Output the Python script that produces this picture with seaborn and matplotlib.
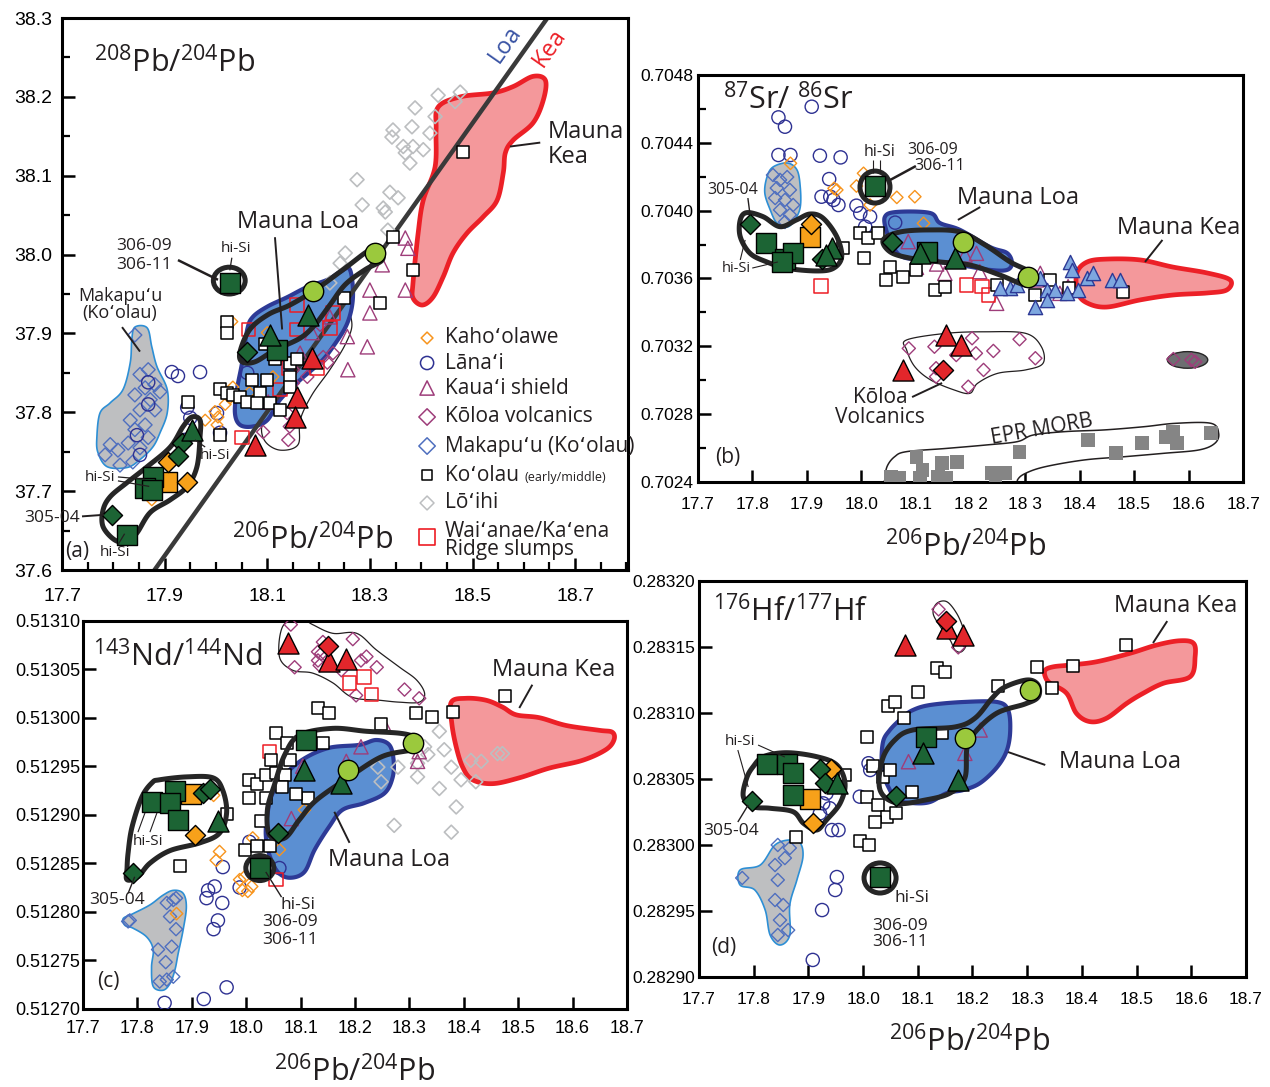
import numpy as np
import matplotlib
matplotlib.use("Agg")
import matplotlib.pyplot as plt
from matplotlib.patches import Ellipse
from matplotlib.ticker import FixedLocator, FixedFormatter, MultipleLocator
import seaborn as sns

sns.set_theme(style="white")
plt.rcParams["font.family"] = ["Liberation Sans", "DejaVu Sans"]
plt.rcParams["mathtext.default"] = "regular"
ANNOT = ["Open Sans", "DejaVu Sans"]
TITLE_SIZE = 22

INK = "#231F20"
ORANGE = "#F7941D"
NAVY = "#2E3192"
PLUM = "#9E3D7A"
MAK_BLUE = "#4F6FBF"
LOIHI_GRAY = "#BCBEC0"
WAI_RED = "#ED1C24"
GREEN = "#1C6434"
ORANGE_FILL = "#F7A11A"
RED_FILL = "#E2262B"
LIME = "#9BC93D"
ML_FILL, ML_EDGE = "#5B8FD2", "#2D3A96"
MK_FILL, MK_EDGE = "#F4989B", "#EC2027"
MAK_FILL, MAK_EDGE = "#BEBFC1", "#2D8FD5"
TUBE = "#262626"
EPR_GRAY = "#858585"
LB_TRI = "#7DA7DF"

# ---------------------------------------------------------------- (a) 208Pb/204Pb
A_KAHO_X = [18.031, 18.033, 18.027, 17.998, 18.004, 18.002, 18.065, 18.111, 17.875, 18.100, 18.018, 17.979]
A_KAHO_Y = [37.915, 37.832, 37.818, 37.801, 37.794, 37.784, 37.825, 37.845, 37.689, 37.901, 37.810, 37.790]
A_LANAI_X = [17.914, 17.926, 17.969, 17.868, 17.846, 17.852, 17.944, 17.950, 18.002, 18.008, 18.061, 17.940, 17.868]
A_LANAI_Y = [37.851, 37.846, 37.851, 37.810, 37.771, 37.746, 37.806, 37.793, 37.799, 37.774, 37.850, 37.765, 37.838]
A_KAUAI_X = [18.369, 18.374, 18.324, 18.300, 18.369, 18.300, 18.256, 18.295, 18.257, 18.187, 18.222, 18.164, 18.102]
A_KAUAI_Y = [38.021, 38.008, 37.987, 37.955, 37.955, 37.926, 37.896, 37.883, 37.854, 37.901, 37.921, 37.875, 37.813]
A_KOLOA_X = [18.150, 18.178, 18.209, 18.228, 18.217, 18.139, 18.144, 18.141, 18.092, 18.150, 18.203]
A_KOLOA_Y = [37.854, 37.845, 37.870, 37.875, 37.863, 37.799, 37.782, 37.765, 37.775, 37.837, 37.911]
A_MAKAPUU_X = [17.842, 17.868, 17.852, 17.881, 17.862, 17.891, 17.842, 17.872, 17.852, 17.881, 17.833,
               17.862, 17.842, 17.868, 17.829, 17.852, 17.794, 17.809, 17.784, 17.838, 17.813]
A_MAKAPUU_Y = [37.898, 37.854, 37.848, 37.835, 37.831, 37.826, 37.822, 37.816, 37.803, 37.803, 37.790,
               37.784, 37.778, 37.768, 37.761, 37.755, 37.759, 37.752, 37.746, 37.737, 37.733]
A_KOOLAU_X = [18.022, 18.022, 17.946, 18.008, 18.022, 18.033, 18.047, 18.061, 18.070, 18.086, 18.080, 18.100, 18.105,
              18.115, 18.144, 18.158, 18.144, 18.125, 18.144, 18.008, 18.250, 18.345, 18.384, 18.482, 18.320, 18.096]
A_KOOLAU_Y = [37.915, 37.901, 37.813, 37.829, 37.825, 37.822, 37.820, 37.813, 37.841, 37.825, 37.812, 37.841, 37.812,
              37.867, 37.863, 37.867, 37.845, 37.803, 37.832, 37.771, 37.945, 38.022, 37.981, 38.130, 37.939, 37.886]
A_LOIHI_X = [18.433, 18.476, 18.466, 18.388, 18.427, 18.382, 18.345, 18.343, 18.417, 18.365, 18.384, 18.404,
             18.369, 18.378, 18.275, 18.339, 18.355, 18.285, 18.326, 18.330, 18.335, 18.252, 18.242, 18.222]
A_LOIHI_Y = [38.202, 38.206, 38.194, 38.186, 38.175, 38.162, 38.158, 38.149, 38.154, 38.137, 38.137, 38.133,
             38.129, 38.116, 38.095, 38.079, 38.072, 38.063, 38.059, 38.054, 38.031, 38.002, 37.989, 37.964]
A_WAIANAE_X = [18.158, 18.063, 18.158, 18.228, 18.222, 18.141, 18.197, 18.125, 18.051]
A_WAIANAE_Y = [37.936, 37.905, 37.905, 37.926, 37.907, 37.856, 37.856, 37.829, 37.768]
A_GSQ_X = [18.027, 17.877, 17.862, 17.875, 17.827, 18.119]
A_GSQ_Y = [37.964, 37.718, 37.704, 37.702, 37.645, 37.879]
A_OSQ_X, A_OSQ_Y = [17.905], [37.712]
A_GDIA_X = [17.797, 17.934, 17.926, 18.061]
A_GDIA_Y = [37.670, 37.761, 37.744, 37.877]
A_ODIA_X, A_ODIA_Y = [17.907, 17.944], [37.737, 37.712]
A_GTRI_X, A_GTRI_Y = [17.953, 18.105, 18.180], [37.778, 37.898, 37.924]
A_RTRI_X, A_RTRI_Y = [18.187, 18.158, 18.154, 18.076], [37.869, 37.820, 37.794, 37.759]
A_LIME_X, A_LIME_Y = [18.189, 18.310], [37.954, 38.002]
A_LOAKEA_X, A_LOAKEA_Y = [17.877, 18.647], [37.597, 38.301]

A_MK_X = [18.433, 18.476, 18.540, 18.579, 18.618, 18.642, 18.638, 18.618, 18.579, 18.564, 18.560, 18.548,
          18.521, 18.489, 18.462, 18.443, 18.423, 18.402, 18.384, 18.384, 18.394, 18.404, 18.427, 18.429]
A_MK_Y = [38.187, 38.200, 38.205, 38.213, 38.226, 38.221, 38.196, 38.167, 38.145, 38.129, 38.104, 38.069,
          38.048, 38.027, 38.002, 37.972, 37.946, 37.936, 37.945, 37.964, 38.027, 38.069, 38.111, 38.158]
A_ML_X = [18.261, 18.267, 18.256, 18.228, 18.203, 18.164, 18.125, 18.100, 18.072, 18.047, 18.037, 18.041,
          18.051, 18.061, 18.072, 18.100, 18.139, 18.178, 18.217, 18.242]
A_ML_Y = [37.981, 37.946, 37.913, 37.883, 37.863, 37.841, 37.816, 37.790, 37.782, 37.784, 37.799, 37.829,
          37.863, 37.905, 37.921, 37.934, 37.946, 37.959, 37.968, 37.978]
A_KF_X = [18.252, 18.265, 18.252, 18.222, 18.187, 18.164, 18.160, 18.125, 18.096, 18.090, 18.115, 18.154, 18.193, 18.222]
A_KF_Y = [37.930, 37.911, 37.886, 37.854, 37.822, 37.790, 37.759, 37.752, 37.763, 37.784, 37.810, 37.835, 37.867, 37.898]
A_MF_X = [17.842, 17.866, 17.875, 17.885, 17.905, 17.905, 17.891, 17.877, 17.852, 17.827, 17.788, 17.770,
          17.768, 17.774, 17.794, 17.819, 17.833, 17.836]
A_MF_Y = [37.908, 37.907, 37.883, 37.858, 37.829, 37.799, 37.774, 37.756, 37.740, 37.730, 37.731, 37.749,
          37.769, 37.799, 37.812, 37.829, 37.863, 37.892]
A_ENV_X = [17.780, 17.794, 17.827, 17.866, 17.911, 17.936, 17.953, 17.969, 17.969, 17.963, 17.944, 17.911,
           17.872, 17.846, 17.827, 17.803, 17.780]
A_ENV_Y = [37.676, 37.693, 37.711, 37.731, 37.756, 37.782, 37.794, 37.790, 37.769, 37.731, 37.706, 37.689,
           37.673, 37.647, 37.636, 37.638, 37.655]
A_TUBE_X = [18.047, 18.066, 18.102, 18.144, 18.193, 18.252, 18.300, 18.320, 18.324, 18.291, 18.252, 18.222,
            18.193, 18.164, 18.115, 18.076, 18.051]
A_TUBE_Y = [37.877, 37.905, 37.924, 37.936, 37.955, 37.983, 38.006, 38.006, 37.993, 37.981, 37.962, 37.936,
            37.911, 37.894, 37.879, 37.864, 37.864]
A_306 = (18.026, 37.967, 0.031, 0.017)

# ---------------------------------------------------------------- (b) 87Sr/86Sr
B_LANAI_X = [17.848, 17.860, 17.909, 17.848, 17.870, 17.924, 17.962, 17.941, 17.927, 17.943, 17.958,
             17.991, 17.998, 18.016, 18.007, 18.062, 17.949]
B_LANAI_Y = [0.704550, 0.704495, 0.704613, 0.704328, 0.704328, 0.704324, 0.704314, 0.704186, 0.704082,
             0.704082, 0.704033, 0.704029, 0.703984, 0.703964, 0.703905, 0.703929, 0.704063]
B_KAHO_X = [17.870, 17.950, 17.955, 18.004, 17.991, 18.016, 18.065, 18.098, 18.114]
B_KAHO_Y = [0.704279, 0.704131, 0.704122, 0.704220, 0.704145, 0.704033, 0.704078, 0.704082, 0.703925]
B_MAKAPUU_X = [17.838, 17.851, 17.864, 17.845, 17.869, 17.842, 17.860, 17.875, 17.851, 17.869, 17.860]
B_MAKAPUU_Y = [0.704210, 0.704181, 0.704198, 0.704133, 0.704122, 0.704074, 0.704063, 0.704033, 0.704004,
               0.703975, 0.703933]
B_KOOLAU_X = [17.998, 18.013, 18.031, 18.004, 18.053, 18.046, 18.077, 18.101, 18.135, 18.153, 17.967,
              18.248, 18.318, 18.346, 18.380, 18.479]
B_KOOLAU_Y = [0.703866, 0.703837, 0.703866, 0.703719, 0.703669, 0.703591, 0.703610, 0.703650, 0.703532,
              0.703549, 0.703778, 0.703561, 0.703502, 0.703591, 0.703542, 0.703522]
B_WAIANAE_X = [17.926, 18.193, 18.221, 18.233]
B_WAIANAE_Y = [0.703555, 0.703561, 0.703551, 0.703502]
B_KAUAI_X = [18.086, 18.101, 18.138, 18.153, 18.190, 18.211, 18.217, 18.248, 18.321, 18.328, 18.364, 18.379]
B_KAUAI_Y = [0.703817, 0.703665, 0.703685, 0.703630, 0.703738, 0.703748, 0.703640, 0.703453, 0.703591,
             0.703630, 0.703512, 0.703551]
B_KOLOA_X = [18.087, 18.134, 18.137, 18.137, 18.174, 18.203, 18.210, 18.224, 18.242, 18.290, 18.319,
             18.196, 18.572, 18.605, 18.612]
B_KOLOA_Y = [0.703187, 0.703197, 0.703070, 0.703020, 0.703148, 0.703247, 0.703158, 0.703060, 0.703172,
             0.703241, 0.703129, 0.702961, 0.703124, 0.703119, 0.703108]
B_MLOA_X = [18.273, 18.327, 18.340, 18.355, 18.382, 18.386, 18.398, 18.413, 18.425, 18.459, 18.474,
            18.318, 18.340, 18.377, 18.254, 18.285]
B_MLOA_Y = [0.703542, 0.703601, 0.703532, 0.703532, 0.703698, 0.703650, 0.703532, 0.703601, 0.703630,
            0.703591, 0.703591, 0.703433, 0.703473, 0.703512, 0.703543, 0.703561]
B_EPR_X = [18.101, 18.112, 18.108, 18.069, 18.148, 18.176, 18.141, 18.156, 18.239, 18.246, 18.264, 18.290,
           18.416, 18.467, 18.514, 18.558, 18.572, 18.579, 18.641, 18.054]
B_EPR_Y = [0.702548, 0.702470, 0.702420, 0.702420, 0.702513, 0.702519, 0.702430, 0.702420, 0.702450,
           0.702410, 0.702450, 0.702574, 0.702647, 0.702568, 0.702631, 0.702666, 0.702696, 0.702627,
           0.702686, 0.702430]
B_GSQ_X = [18.025, 17.825, 17.860, 17.875, 17.854, 18.120]
B_GSQ_Y = [0.704145, 0.703807, 0.703713, 0.703752, 0.703698, 0.703757]
B_OSQ_X, B_OSQ_Y = [17.906], [0.703846]
B_GDIA_X, B_GDIA_Y = [17.796, 17.927, 18.056], [0.703919, 0.703713, 0.703816]
B_ODIA_X, B_ODIA_Y = [17.908], [0.703921]
B_GTRI_X, B_GTRI_Y = [17.947, 17.936, 18.108, 18.172], [0.703778, 0.703738, 0.703752, 0.703719]
B_RTRI_X, B_RTRI_Y = [18.076, 18.156, 18.183], [0.703060, 0.703266, 0.703207]
B_RDIA_X, B_RDIA_Y = [18.150], [0.703060]
B_LIME_X, B_LIME_Y = [18.187, 18.306], [0.703816, 0.703610]

B_MF_X = [17.827, 17.838, 17.864, 17.882, 17.888, 17.888, 17.878, 17.864, 17.845, 17.833, 17.823]
B_MF_Y = [0.704198, 0.704257, 0.704281, 0.704240, 0.704139, 0.704021, 0.703945, 0.703903, 0.703927,
          0.704004, 0.704104]
B_ML_X = [18.043, 18.065, 18.126, 18.144, 18.181, 18.236, 18.267, 18.276, 18.267, 18.236, 18.181, 18.157,
          18.113, 18.076, 18.058, 18.047]
B_ML_Y = [0.703962, 0.703992, 0.703986, 0.703927, 0.703886, 0.703785, 0.703750, 0.703691, 0.703650,
          0.703650, 0.703679, 0.703691, 0.703709, 0.703726, 0.703785, 0.703868]
B_MK_X = [18.395, 18.414, 18.450, 18.511, 18.571, 18.634, 18.676, 18.670, 18.634, 18.571, 18.511, 18.450,
          18.414, 18.397]
B_MK_Y = [0.703632, 0.703697, 0.703714, 0.703709, 0.703667, 0.703632, 0.703591, 0.703532, 0.703514,
          0.703502, 0.703473, 0.703431, 0.703455, 0.703514]
B_KF_X = [18.083, 18.156, 18.228, 18.301, 18.330, 18.333, 18.301, 18.250, 18.213, 18.199, 18.170, 18.127,
          18.098, 18.083]
B_KF_Y = [0.703237, 0.703276, 0.703285, 0.703276, 0.703197, 0.703099, 0.703060, 0.703040, 0.702981,
          0.702922, 0.702942, 0.703001, 0.703079, 0.703178]
B_EPRF_X = [18.043, 18.047, 18.061, 18.083, 18.156, 18.228, 18.286, 18.315, 18.373, 18.445, 18.518, 18.576,
            18.641, 18.655, 18.648, 18.619, 18.554, 18.482, 18.409, 18.337, 18.301, 18.286, 18.280, 18.040]
B_EPRF_Y = [0.702410, 0.702489, 0.702548, 0.702578, 0.702597, 0.702617, 0.702637, 0.702676, 0.702696,
            0.702706, 0.702725, 0.702745, 0.702745, 0.702686, 0.702627, 0.702588, 0.702568, 0.702548,
            0.702529, 0.702489, 0.702450, 0.702410, 0.702340, 0.702340]
B_ENV_X = [17.778, 17.790, 17.820, 17.851, 17.881, 17.906, 17.930, 17.955, 17.964, 17.949, 17.918, 17.863,
           17.826, 17.796, 17.778]
B_ENV_Y = [0.703945, 0.703988, 0.703964, 0.703905, 0.703945, 0.703980, 0.703955, 0.703846, 0.703728,
           0.703660, 0.703644, 0.703660, 0.703698, 0.703748, 0.703846]
B_TUBE_X = [18.040, 18.071, 18.126, 18.181, 18.227, 18.273, 18.309, 18.318, 18.300, 18.254, 18.199, 18.144,
            18.089, 18.053]
B_TUBE_Y = [0.703827, 0.703874, 0.703886, 0.703874, 0.703797, 0.703697, 0.703638, 0.703579, 0.703561,
            0.703620, 0.703679, 0.703697, 0.703720, 0.703756]
B_306 = (18.025, 0.704139, 0.0275, 0.0000944)
B_ODD = (18.598, 0.703119, 0.037, 0.000049)

# ---------------------------------------------------------------- (c) 143Nd/144Nd
C_KAHO_X = [17.951, 17.945, 17.988, 17.997, 17.993, 18.003, 18.010, 18.012, 18.061, 18.107, 17.940, 17.872]
C_KAHO_Y = [0.512862, 0.512853, 0.512833, 0.512836, 0.512822, 0.512821, 0.512826, 0.512876, 0.512864,
            0.512905, 0.512920, 0.512798]
C_LANAI_X = [17.927, 17.930, 17.942, 17.957, 17.956, 17.948, 17.940, 17.850, 17.922, 17.964, 17.988, 18.006, 18.061]
C_LANAI_Y = [0.512814, 0.512822, 0.512826, 0.512846, 0.512809, 0.512791, 0.512782, 0.512706, 0.512710,
             0.512722, 0.512825, 0.512872, 0.512845]
C_MAKAPUU_X = [17.783, 17.786, 17.854, 17.866, 17.871, 17.860, 17.871, 17.863, 17.838, 17.852, 17.841, 17.854, 17.866]
C_MAKAPUU_Y = [0.512790, 0.512791, 0.512809, 0.512812, 0.512814, 0.512795, 0.512782, 0.512764, 0.512761,
               0.512748, 0.512728, 0.512730, 0.512733]
C_KOOLAU_X = [18.055, 18.075, 18.046, 18.006, 18.019, 18.037, 18.055, 18.071, 18.065, 18.006, 18.037, 18.113,
              18.132, 18.028, 18.080, 17.964, 17.997, 18.019, 18.043, 17.878, 18.152, 18.248, 18.313, 18.342,
              18.380, 18.476, 18.142, 18.092]
C_KOOLAU_Y = [0.512984, 0.512974, 0.512956, 0.512936, 0.512932, 0.512941, 0.512943, 0.512941, 0.512929,
              0.512917, 0.512917, 0.512917, 0.513010, 0.512893, 0.512956, 0.512901, 0.512864, 0.512868,
              0.512868, 0.512847, 0.513005, 0.512994, 0.513005, 0.513001, 0.513006, 0.513022, 0.512974,
              0.512921]
C_WAIANAE_X = [18.043, 18.190, 18.217, 18.230, 18.055]
C_WAIANAE_Y = [0.512965, 0.513036, 0.513042, 0.513024, 0.512833]
C_KOLOA_X = [18.082, 18.089, 18.132, 18.132, 18.141, 18.138, 18.135, 18.196, 18.211, 18.221, 18.240, 18.175,
             18.202, 18.291, 18.318]
C_KOLOA_Y = [0.513096, 0.513052, 0.513068, 0.513059, 0.513078, 0.513066, 0.513054, 0.513081, 0.513059,
             0.513063, 0.513052, 0.513049, 0.513023, 0.513029, 0.513020]
C_KAUAI_X = [18.254, 18.211, 18.318, 18.315, 18.184, 18.083, 18.104]
C_KAUAI_Y = [0.512992, 0.512970, 0.512965, 0.512955, 0.512955, 0.512896, 0.512950]
C_LOIHI_X = [18.355, 18.328, 18.364, 18.334, 18.315, 18.279, 18.242, 18.248, 18.315, 18.377, 18.395, 18.422,
             18.413, 18.432, 18.462, 18.471, 18.355, 18.386, 18.272, 18.377]
C_LOIHI_Y = [0.512986, 0.512970, 0.512967, 0.512962, 0.512953, 0.512949, 0.512949, 0.512934, 0.512939,
             0.512949, 0.512936, 0.512934, 0.512956, 0.512955, 0.512963, 0.512963, 0.512927, 0.512908,
             0.512889, 0.512882]
C_GSQ_X = [17.826, 17.869, 17.860, 17.875, 18.025, 18.110]
C_GSQ_Y = [0.512913, 0.512924, 0.512912, 0.512895, 0.512845, 0.512977]
C_OSQ_X, C_OSQ_Y = [17.899], [0.512921]
C_ODIA_X, C_ODIA_Y = [17.906], [0.512879]
C_GDIA_X, C_GDIA_Y = [17.792, 17.921, 17.933, 18.058], [0.512840, 0.512922, 0.512927, 0.512881]
C_GTRI_X, C_GTRI_Y = [17.948, 18.107, 18.175], [0.512893, 0.512946, 0.512933]
C_RTRI_X, C_RTRI_Y = [18.077, 18.153, 18.183], [0.513077, 0.513058, 0.513060]
C_RDIA_X, C_RDIA_Y = [18.150], [0.513074]
C_LIME_X, C_LIME_Y = [18.306, 18.187], [0.512974, 0.512946]

C_MF_X = [17.774, 17.792, 17.823, 17.847, 17.866, 17.884, 17.890, 17.884, 17.875, 17.869, 17.860, 17.847,
          17.829, 17.826, 17.829, 17.817, 17.792, 17.777]
C_MF_Y = [0.512793, 0.512798, 0.512807, 0.512817, 0.512822, 0.512819, 0.512805, 0.512781, 0.512757,
          0.512740, 0.512726, 0.512719, 0.512723, 0.512743, 0.512761, 0.512774, 0.512783, 0.512786]
C_ML_X = [18.039, 18.047, 18.071, 18.107, 18.153, 18.208, 18.239, 18.263, 18.271, 18.269, 18.254, 18.217,
          18.177, 18.153, 18.126, 18.107, 18.080, 18.058, 18.043, 18.036]
C_ML_Y = [0.512900, 0.512920, 0.512941, 0.512958, 0.512969, 0.512972, 0.512977, 0.512972, 0.512956,
          0.512938, 0.512922, 0.512912, 0.512905, 0.512888, 0.512864, 0.512841, 0.512835, 0.512841,
          0.512858, 0.512879]
C_MK_X = [18.377, 18.404, 18.441, 18.471, 18.496, 18.539, 18.588, 18.649, 18.673, 18.676, 18.661, 18.618,
          18.557, 18.502, 18.453, 18.416, 18.398, 18.386, 18.378]
C_MK_Y = [0.513016, 0.513020, 0.513018, 0.513011, 0.513003, 0.513000, 0.512992, 0.512987, 0.512985,
          0.512977, 0.512967, 0.512956, 0.512948, 0.512938, 0.512932, 0.512936, 0.512949, 0.512970,
          0.512994]
C_KF_X = [18.067, 18.098, 18.122, 18.159, 18.203, 18.239, 18.282, 18.313, 18.328, 18.318, 18.282, 18.245,
          18.195, 18.159, 18.122, 18.085, 18.061]
C_KF_Y = [0.513094, 0.513103, 0.513096, 0.513087, 0.513087, 0.513070, 0.513052, 0.513039, 0.513025,
          0.513016, 0.513016, 0.513018, 0.513021, 0.513036, 0.513046, 0.513049, 0.513063]
C_ENV_X = [17.781, 17.783, 17.790, 17.808, 17.827, 17.841, 17.891, 17.939, 17.957, 17.964, 17.951, 17.915,
           17.860, 17.823, 17.801, 17.781]
C_ENV_Y = [0.512845, 0.512861, 0.512887, 0.512918, 0.512933, 0.512936, 0.512939, 0.512938, 0.512925,
           0.512902, 0.512881, 0.512871, 0.512863, 0.512850, 0.512836, 0.512833]
C_TUBE_X = [18.043, 18.039, 18.052, 18.071, 18.098, 18.159, 18.221, 18.282, 18.309, 18.318, 18.306, 18.250,
            18.190, 18.129, 18.098, 18.071]
C_TUBE_Y = [0.512879, 0.512905, 0.512931, 0.512962, 0.512982, 0.512989, 0.512986, 0.512984, 0.512980,
            0.512972, 0.512967, 0.512960, 0.512939, 0.512915, 0.512895, 0.512876]
C_306 = (18.025, 0.512845, 0.0257, 0.0000129)

# ---------------------------------------------------------------- (d) 176Hf/177Hf
D_LANAI_X = [18.010, 18.013, 17.994, 17.933, 17.927, 17.939, 17.921, 17.943, 17.955, 17.952, 17.949, 17.925, 17.908]
D_LANAI_Y = [0.2830617, 0.2830566, 0.2830364, 0.2830389, 0.2830313, 0.2830276, 0.2830238, 0.2830111,
             0.2830111, 0.2829755, 0.2829657, 0.2829505, 0.2829127]
D_MAKAPUU_X = [17.779, 17.844, 17.866, 17.857, 17.839, 17.844, 17.839, 17.854, 17.848, 17.844, 17.863]
D_MAKAPUU_Y = [0.2829748, 0.2829998, 0.2829975, 0.2829899, 0.2829846, 0.2829733, 0.2829581, 0.2829543,
               0.2829429, 0.2829316, 0.2829353]
D_KOOLAU_X = [18.135, 18.150, 18.101, 18.046, 18.058, 18.075, 18.007, 18.019, 18.007, 18.028, 18.043, 18.022,
              18.061, 17.994, 18.010, 18.036, 18.049, 18.089, 18.144, 17.967, 17.877, 18.247, 18.318, 18.345,
              18.383, 18.481]
D_KOOLAU_Y = [0.2831336, 0.2831311, 0.2831159, 0.2831051, 0.2831083, 0.2830958, 0.2830818, 0.2830596,
              0.2830364, 0.2830301, 0.2830212, 0.2830170, 0.2830242, 0.2830030, 0.2829998, 0.2830515,
              0.2830566, 0.2830401, 0.2830844, 0.2830528, 0.2830061, 0.2831202, 0.2831348, 0.2831185,
              0.2831354, 0.2831513]
D_KOLOA_X, D_KOLOA_Y = [18.138, 18.174], [0.2831783, 0.2831495]
D_KAUAI_X, D_KAUAI_Y = [18.083, 18.214, 18.186], [0.2830629, 0.2830869, 0.2830692]
D_GSQ_X = [17.825, 17.860, 17.872, 17.871, 18.115, 18.031]
D_GSQ_Y = [0.2830609, 0.2830609, 0.2830541, 0.2830376, 0.2830818, 0.2829755]
D_OSQ_X, D_OSQ_Y = [17.903], [0.2830344]
D_ODIA_X, D_ODIA_Y = [17.941, 17.908], [0.2830571, 0.2830162]
D_GDIA_X, D_GDIA_Y = [17.796, 17.921, 17.930, 18.060], [0.2830333, 0.2830571, 0.2830465, 0.2830369]
D_GTRI_X, D_GTRI_Y = [17.952, 18.110, 18.174], [0.2830470, 0.2830692, 0.2830490]
D_RTRI_X, D_RTRI_Y = [18.077, 18.153, 18.183], [0.2831513, 0.2831639, 0.2831589]
D_RDIA_X, D_RDIA_Y = [18.152], [0.2831697]
D_LIME_X, D_LIME_Y = [18.186, 18.305], [0.2830806, 0.2831172]

D_MF_X = [17.775, 17.812, 17.839, 17.866, 17.885, 17.890, 17.879, 17.866, 17.866, 17.848, 17.830, 17.821,
          17.802, 17.775]
D_MF_Y = [0.2829808, 0.2829846, 0.2829998, 0.2830036, 0.2830013, 0.2829907, 0.2829733, 0.2829543,
          0.2829316, 0.2829240, 0.2829316, 0.2829505, 0.2829657, 0.2829695]
D_ML_X = [18.036, 18.049, 18.073, 18.091, 18.122, 18.183, 18.245, 18.265, 18.269, 18.263, 18.245, 18.214,
          18.183, 18.153, 18.122, 18.091, 18.062, 18.049, 18.035]
D_ML_Y = [0.2830770, 0.2830869, 0.2830967, 0.2831020, 0.2831058, 0.2831081, 0.2831081, 0.2831020,
          0.2830869, 0.2830717, 0.2830588, 0.2830467, 0.2830414, 0.2830391, 0.2830323, 0.2830315,
          0.2830338, 0.2830414, 0.2830566]
D_MK_X = [18.333, 18.348, 18.378, 18.427, 18.488, 18.537, 18.579, 18.604, 18.607, 18.598, 18.549, 18.512,
          18.482, 18.445, 18.415, 18.390, 18.372, 18.342, 18.333]
D_MK_Y = [0.2831323, 0.2831348, 0.2831361, 0.2831386, 0.2831450, 0.2831513, 0.2831545, 0.2831526,
          0.2831424, 0.2831273, 0.2831223, 0.2831147, 0.2831071, 0.2830958, 0.2830932, 0.2830995,
          0.2831147, 0.2831223, 0.2831273]
D_KF_X = [18.135, 18.153, 18.171, 18.183, 18.189, 18.180, 18.168, 18.159, 18.141, 18.128]
D_KF_Y = [0.2831829, 0.2831841, 0.2831753, 0.2831639, 0.2831526, 0.2831462, 0.2831475, 0.2831551,
          0.2831652, 0.2831753]
D_ENV_X = [17.787, 17.799, 17.818, 17.860, 17.915, 17.952, 17.967, 17.958, 17.933, 17.915, 17.891, 17.872,
           17.830, 17.799, 17.781]
D_ENV_Y = [0.2830503, 0.2830591, 0.2830667, 0.2830697, 0.2830667, 0.2830604, 0.2830465, 0.2830314,
           0.2830187, 0.2830111, 0.2830162, 0.2830250, 0.2830276, 0.2830288, 0.2830364]
D_TUBE_X = [18.031, 18.035, 18.058, 18.091, 18.168, 18.205, 18.236, 18.259, 18.300, 18.320, 18.320, 18.296,
            18.245, 18.205, 18.190, 18.186, 18.159, 18.113, 18.062]
D_TUBE_Y = [0.2830414, 0.2830642, 0.2830793, 0.2830869, 0.2830892, 0.2830960, 0.2831111, 0.2831194,
            0.2831248, 0.2831210, 0.2831119, 0.2831066, 0.2830998, 0.2830854, 0.2830733, 0.2830505,
            0.2830391, 0.2830338, 0.2830315]
D_306 = (18.031, 0.2829748, 0.0293, 0.0000114)

X_TICKS = [17.7, 17.8, 17.9, 18.0, 18.1, 18.2, 18.3, 18.4, 18.5, 18.6, 18.7]
X_LABELS = ["17.7", "17.8", "17.9", "18.0", "18.1", "18.2", "18.3", "18.4", "18.5", "18.6", "18.7"]
B_X_LABELS = ["17.7", "17.8", "17.9", "18.0", "18.1", "18 2", "18 3", "18.4", "18.5", "18.6", "18.7"]
A_X_TICKS = [17.7, 17.9, 18.1, 18.3, 18.5, 18.7]
A_Y_TICKS = [37.6, 37.7, 37.8, 37.9, 38.0, 38.1, 38.2, 38.3]
B_Y_TICKS = [0.7024, 0.7028, 0.7032, 0.7036, 0.7040, 0.7044, 0.7048]
C_Y_TICKS = [0.51270, 0.51275, 0.51280, 0.51285, 0.51290, 0.51295, 0.51300, 0.51305, 0.51310]
D_Y_TICKS = [0.28290, 0.28295, 0.28300, 0.28305, 0.28310, 0.28315, 0.28320]


def smooth_closed(xs, ys, n=12):
    """Closed Catmull-Rom curve through the outline vertices."""
    p = np.column_stack([xs, ys]).astype(float)
    k = len(p)
    t = np.linspace(0.0, 1.0, n, endpoint=False)[:, None]
    out = []
    for i in range(k):
        p0, p1, p2, p3 = p[i - 1], p[i], p[(i + 1) % k], p[(i + 2) % k]
        out.append(0.5 * (2 * p1 + (p2 - p0) * t + (2 * p0 - 5 * p1 + 4 * p2 - p3) * t ** 2
                          + (3 * p1 - p0 - 3 * p2 + p3) * t ** 3))
    out = np.vstack(out)
    return out[:, 0], out[:, 1]


def field(ax, xs, ys, fc, ec, lw, z=1):
    sx, sy = smooth_closed(xs, ys)
    ax.fill(sx, sy, facecolor=fc, edgecolor=ec, linewidth=lw, zorder=z, joinstyle="round")


def envelope(ax, xs, ys, z=4):
    sx, sy = smooth_closed(xs, ys)
    ax.fill(sx, sy, facecolor="none", edgecolor=TUBE, linewidth=3.6, zorder=z, joinstyle="round")


def ring(ax, spec, fc="none", lw=3.6, z=4):
    cx, cy, hw, hh = spec
    ax.add_patch(Ellipse((cx, cy), 2 * hw, 2 * hh, facecolor=fc, edgecolor=TUBE, linewidth=lw, zorder=z))


def pts(ax, xs, ys, marker, s, fc, ec, lw=1.0, z=3):
    sns.scatterplot(x=np.asarray(xs, float), y=np.asarray(ys, float), marker=marker, s=s,
                    facecolor=fc, edgecolor=ec, linewidth=lw, zorder=z, legend=False, ax=ax)


def note(ax, x, y, s, size, ha="center", va="center", color=INK, **kw):
    return ax.text(x, y, s, fontsize=size, family=ANNOT, ha=ha, va=va, color=color, zorder=8, **kw)


def lead(ax, x0, y0, x1, y1, lw=1.4):
    ax.plot([x0, x1], [y0, y1], color=INK, linewidth=lw, zorder=7, solid_capstyle="butt")


def study(ax, d):
    """Filled symbols for the new samples (green/orange/red/lime)."""
    if "osq" in d:
        pts(ax, *d["osq"], "s", 220, ORANGE_FILL, "black", 1.0, 5)
    pts(ax, *d["gsq"], "s", 220, GREEN, "black", 1.0, 5)
    if "odia" in d:
        pts(ax, *d["odia"], "D", 105, ORANGE_FILL, "black", 1.0, 5)
    pts(ax, *d["gdia"], "D", 105, GREEN, "black", 1.0, 5)
    pts(ax, *d["gtri"], "^", 230, GREEN, "black", 1.0, 5)
    pts(ax, *d["rtri"], "^", 230, RED_FILL, "black", 1.0, 5)
    if "rdia" in d:
        pts(ax, *d["rdia"], "D", 105, RED_FILL, "black", 1.0, 5)
    pts(ax, *d["lime"], "o", 215, LIME, "black", 1.0, 6)


def frame(ax, xlim, ylim, xticks, xlabels, yticks, ylabels, xsize, ysize, xpad, ypad,
          xminor=None, yminor=None):
    ax.set_xlim(*xlim)
    ax.set_ylim(*ylim)
    ax.xaxis.set_major_locator(FixedLocator(xticks))
    ax.xaxis.set_major_formatter(FixedFormatter(xlabels))
    ax.yaxis.set_major_locator(FixedLocator(yticks))
    ax.yaxis.set_major_formatter(FixedFormatter(ylabels))
    if xminor:
        ax.xaxis.set_minor_locator(MultipleLocator(xminor))
    if yminor:
        ax.yaxis.set_minor_locator(MultipleLocator(yminor))
    ax.tick_params(which="both", direction="in", bottom=True, left=True, top=False, right=False,
                   color="black")
    ax.tick_params(which="major", length=9, width=1.8)
    ax.tick_params(which="minor", length=6, width=1.6)
    ax.tick_params(axis="x", which="major", labelsize=xsize, pad=xpad, labelcolor="black")
    ax.tick_params(axis="y", which="major", labelsize=ysize, pad=ypad, labelcolor="black")
    for sp in ax.spines.values():
        sp.set_visible(True)
        sp.set_linewidth(2.2)
        sp.set_color("black")
    ax.set_xlabel("")
    ax.set_ylabel("")
    ax.grid(False)
    ax.set_facecolor("white")


fig = plt.figure(figsize=(12.7, 10.87), dpi=100)
fig.patch.set_facecolor("white")
ax_a = fig.add_axes([0.04882, 0.47562, 0.44567, 0.50782])
ax_b = fig.add_axes([0.54937, 0.55676, 0.42953, 0.37424])
ax_c = fig.add_axes([0.06535, 0.07203, 0.42835, 0.35695])
ax_d = fig.add_axes([0.55039, 0.10147, 0.43071, 0.36431])

# =============================================================== panel (a)
ax = ax_a
field(ax, A_MF_X, A_MF_Y, MAK_FILL, MAK_EDGE, 1.2)
field(ax, A_KF_X, A_KF_Y, "white", INK, 0.9)
field(ax, A_ML_X, A_ML_Y, ML_FILL, ML_EDGE, 3.0)
field(ax, A_MK_X, A_MK_Y, MK_FILL, MK_EDGE, 3.4)
ax.plot(A_LOAKEA_X, A_LOAKEA_Y, color="#3A3A3A", linewidth=3.2, zorder=2.5, solid_capstyle="butt")
pts(ax, A_MAKAPUU_X, A_MAKAPUU_Y, "D", 50, "none", MAK_BLUE, 1.0)
pts(ax, A_LOIHI_X, A_LOIHI_Y, "D", 50, "none", LOIHI_GRAY, 1.2)
pts(ax, A_LANAI_X, A_LANAI_Y, "o", 90, "none", NAVY, 1.0)
pts(ax, A_KAUAI_X, A_KAUAI_Y, "^", 105, "none", PLUM, 1.0)
pts(ax, A_KOLOA_X, A_KOLOA_Y, "D", 45, "none", PLUM, 1.0)
pts(ax, A_WAIANAE_X, A_WAIANAE_Y, "s", 95, "none", WAI_RED, 1.1)
pts(ax, A_KAHO_X, A_KAHO_Y, "D", 36, "none", ORANGE, 1.0)
pts(ax, A_KOOLAU_X, A_KOOLAU_Y, "s", 66, "white", "black", 1.1, 3.5)
envelope(ax, A_ENV_X, A_ENV_Y)
envelope(ax, A_TUBE_X, A_TUBE_Y)
ring(ax, A_306)
study(ax, dict(gsq=(A_GSQ_X, A_GSQ_Y), osq=(A_OSQ_X, A_OSQ_Y), gdia=(A_GDIA_X, A_GDIA_Y),
               odia=(A_ODIA_X, A_ODIA_Y), gtri=(A_GTRI_X, A_GTRI_Y), rtri=(A_RTRI_X, A_RTRI_Y),
               lime=(A_LIME_X, A_LIME_Y)))
frame(ax, (17.7, 18.803), (37.6, 38.3), A_X_TICKS, ["17.7", "17.9", "18.1", "18.3", "18.5", "18.7"],
      A_Y_TICKS, ["37.6", "37.7", "37.8", "37.9", "38.0", "38.1", "38.2", "38.3"], 14, 14, 13, 7,
      xminor=0.05, yminor=0.05)

note(ax, 17.920, 38.243, "$^{208}$Pb/$^{204}$Pb", TITLE_SIZE)
note(ax, 18.189, 37.638, "$^{206}$Pb/$^{204}$Pb", TITLE_SIZE)
note(ax, 18.160, 38.041, "Mauna Loa", 17)
lead(ax, 18.115, 38.022, 18.129, 37.905)
note(ax, 18.647, 38.156, "Mauna", 17, ha="left")
note(ax, 18.647, 38.124, "Kea", 17, ha="left")
lead(ax, 18.573, 38.137, 18.632, 38.142)
note(ax, 18.564, 38.266, "Loa", 17, color="#3953A4", rotation=55)
note(ax, 18.651, 38.262, "Kea", 17, color=MK_EDGE, rotation=55)
note(ax, 17.914, 38.011, "306-09", 12.5, ha="right")
note(ax, 17.914, 37.987, "306-11", 12.5, ha="right")
lead(ax, 17.926, 37.993, 18.004, 37.968, 1.8)
note(ax, 18.039, 38.008, "hi-Si", 11)
lead(ax, 18.031, 37.996, 18.027, 37.980, 0.9)
note(ax, 17.813, 37.948, "Makapuʻu", 13)
note(ax, 17.813, 37.926, "(Koʻolau)", 13)
lead(ax, 17.817, 37.908, 17.852, 37.877)
note(ax, 17.774, 37.717, "hi-Si", 11)
lead(ax, 17.809, 37.718, 17.862, 37.715, 0.9)
lead(ax, 17.809, 37.713, 17.870, 37.706, 0.9)
note(ax, 17.681, 37.666, "305-04", 12.5)
lead(ax, 17.739, 37.668, 17.782, 37.670)
note(ax, 17.803, 37.622, "hi-Si", 11)
lead(ax, 17.809, 37.632, 17.822, 37.646, 0.9)
note(ax, 17.998, 37.745, "hi-Si", 11)
lead(ax, 17.979, 37.756, 17.959, 37.765, 0.9)
note(ax, 17.729, 37.624, "(a)", 15)

# hand-built key in axes fractions
key_mx, key_tx = 0.645, 0.677
key_rows = [
    (0.4203, "D", 36, "none", ORANGE, "Kahoʻolawe"),
    (0.3750, "o", 90, "none", NAVY, "Lānaʻi"),
    (0.3297, "^", 105, "none", PLUM, "Kauaʻi shield"),
    (0.2772, "D", 70, "none", PLUM, "Kōloa volcanics"),
    (0.2246, "D", 70, "none", MAK_BLUE, "Makapuʻu (Koʻolau)"),
    (0.1721, "s", 62, "white", "black", "Koʻolau"),
    (0.1214, "D", 50, "none", LOIHI_GRAY, "Lōʻihi"),
]
for ky, mk, ms, fc, ec, txt in key_rows:
    ax.scatter([key_mx], [ky], marker=mk, s=ms, facecolor=fc, edgecolor=ec, linewidth=1.1,
               transform=ax.transAxes, clip_on=False, zorder=8)
    t = ax.text(key_tx, ky, txt, transform=ax.transAxes, fontsize=15, family=ANNOT, ha="left",
                va="center", color=INK, zorder=8)
    if txt == "Koʻolau":
        ax.annotate("(early/middle)", xy=(1, 0.08), xycoords=t, xytext=(4, 0), textcoords="offset points",
                    fontsize=9, family=ANNOT, ha="left", va="bottom", color=INK)
ax.scatter([key_mx], [0.0598], marker="s", s=130, facecolor="none", edgecolor=WAI_RED, linewidth=1.2,
           transform=ax.transAxes, clip_on=False, zorder=8)
ax.text(key_tx, 0.0534, "Waiʻanae/Kaʻena\nRidge slumps", transform=ax.transAxes, fontsize=15,
        family=ANNOT, ha="left", va="center", color=INK, linespacing=0.85, zorder=8)

# =============================================================== panel (b)
ax = ax_b
field(ax, B_EPRF_X, B_EPRF_Y, "white", INK, 1.1)
field(ax, B_KF_X, B_KF_Y, "white", INK, 0.9)
field(ax, B_MF_X, B_MF_Y, MAK_FILL, MAK_EDGE, 1.2)
field(ax, B_ML_X, B_ML_Y, ML_FILL, ML_EDGE, 3.0)
field(ax, B_MK_X, B_MK_Y, MK_FILL, MK_EDGE, 3.4)
ring(ax, B_ODD, fc="#6D6E71", lw=1.0, z=2)
pts(ax, B_EPR_X, B_EPR_Y, "s", 100, EPR_GRAY, "none", 0, 3)
pts(ax, B_MAKAPUU_X, B_MAKAPUU_Y, "D", 45, "none", MAK_BLUE, 1.0)
pts(ax, B_LANAI_X, B_LANAI_Y, "o", 90, "none", NAVY, 1.0)
pts(ax, B_KAHO_X, B_KAHO_Y, "D", 40, "none", ORANGE, 1.0)
pts(ax, B_KOLOA_X, B_KOLOA_Y, "D", 45, "none", PLUM, 1.0)
pts(ax, B_KAUAI_X, B_KAUAI_Y, "^", 105, "none", PLUM, 1.0)
pts(ax, B_WAIANAE_X, B_WAIANAE_Y, "s", 95, "none", WAI_RED, 1.1)
pts(ax, B_KOOLAU_X, B_KOOLAU_Y, "s", 85, "white", "black", 1.1, 3.5)
pts(ax, B_MLOA_X, B_MLOA_Y, "^", 105, LB_TRI, ML_EDGE, 1.0, 3.6)
envelope(ax, B_ENV_X, B_ENV_Y)
envelope(ax, B_TUBE_X, B_TUBE_Y)
ring(ax, B_306)
study(ax, dict(gsq=(B_GSQ_X, B_GSQ_Y), osq=(B_OSQ_X, B_OSQ_Y), gdia=(B_GDIA_X, B_GDIA_Y),
               odia=(B_ODIA_X, B_ODIA_Y), gtri=(B_GTRI_X, B_GTRI_Y), rtri=(B_RTRI_X, B_RTRI_Y),
               rdia=(B_RDIA_X, B_RDIA_Y), lime=(B_LIME_X, B_LIME_Y)))
frame(ax, (17.7, 18.7), (0.7024, 0.7048), X_TICKS, B_X_LABELS, B_Y_TICKS,
      ["0.7024", "0.7028", "0.7032", "0.7036", "0.7040", "0.7044", "0.7048"], 12.5, 12.5, 11, 3,
      yminor=0.0002)

note(ax, 17.866, 0.704653, "$^{87}$Sr/ $^{86}$Sr", TITLE_SIZE)
note(ax, 17.765, 0.704122, "305-04", 11.5)
lead(ax, 17.792, 0.704074, 17.796, 0.703974, 1.0)
note(ax, 17.770, 0.703661, "hi-Si", 10.5)
lead(ax, 17.778, 0.703709, 17.787, 0.703827, 0.8)
lead(ax, 17.800, 0.703661, 17.847, 0.703697, 0.8)
note(ax, 18.034, 0.704346, "hi-Si", 11.5)
lead(ax, 18.021, 0.704299, 18.021, 0.704220, 0.8)
lead(ax, 18.034, 0.704299, 18.034, 0.704220, 0.8)
note(ax, 18.130, 0.704358, "306-09", 11.5)
note(ax, 18.143, 0.704263, "306-11", 11.5)
lead(ax, 18.100, 0.704263, 18.053, 0.704181, 1.8)
note(ax, 18.287, 0.704074, "Mauna Loa", 17)
lead(ax, 18.218, 0.704021, 18.177, 0.703945)
note(ax, 18.581, 0.703897, "Mauna Kea", 17)
lead(ax, 18.552, 0.703827, 18.520, 0.703697)
note(ax, 18.034, 0.702900, "Kōloa", 15)
note(ax, 18.034, 0.702782, "Volcanics", 15)
lead(ax, 18.093, 0.702900, 18.148, 0.702983)
note(ax, 18.331, 0.702706, "EPR MORB", 15, rotation=10)
note(ax, 17.756, 0.702546, "(b)", 15)
fig.text(0.7606, 0.4968, "$^{206}$Pb/$^{204}$Pb", fontsize=TITLE_SIZE, family=ANNOT, ha="center",
         va="center", color=INK)

# =============================================================== panel (c)
ax = ax_c
field(ax, C_KF_X, C_KF_Y, "white", INK, 0.9)
field(ax, C_MF_X, C_MF_Y, MAK_FILL, MAK_EDGE, 1.2)
field(ax, C_ML_X, C_ML_Y, ML_FILL, ML_EDGE, 3.0)
field(ax, C_MK_X, C_MK_Y, MK_FILL, MK_EDGE, 3.4)
pts(ax, C_MAKAPUU_X, C_MAKAPUU_Y, "D", 45, "none", MAK_BLUE, 1.0)
pts(ax, C_LOIHI_X, C_LOIHI_Y, "D", 50, "none", LOIHI_GRAY, 1.2)
pts(ax, C_LANAI_X, C_LANAI_Y, "o", 90, "none", NAVY, 1.0)
pts(ax, C_KAUAI_X, C_KAUAI_Y, "^", 105, "none", PLUM, 1.0)
pts(ax, C_KOLOA_X, C_KOLOA_Y, "D", 45, "none", PLUM, 1.0)
pts(ax, C_WAIANAE_X, C_WAIANAE_Y, "s", 95, "none", WAI_RED, 1.1)
pts(ax, C_KAHO_X, C_KAHO_Y, "D", 40, "none", ORANGE, 1.0)
pts(ax, C_KOOLAU_X, C_KOOLAU_Y, "s", 85, "white", "black", 1.1, 3.5)
envelope(ax, C_ENV_X, C_ENV_Y)
envelope(ax, C_TUBE_X, C_TUBE_Y)
ring(ax, C_306)
study(ax, dict(gsq=(C_GSQ_X, C_GSQ_Y), osq=(C_OSQ_X, C_OSQ_Y), gdia=(C_GDIA_X, C_GDIA_Y),
               odia=(C_ODIA_X, C_ODIA_Y), gtri=(C_GTRI_X, C_GTRI_Y), rtri=(C_RTRI_X, C_RTRI_Y),
               rdia=(C_RDIA_X, C_RDIA_Y), lime=(C_LIME_X, C_LIME_Y)))
frame(ax, (17.7, 18.7), (0.51270, 0.51310), X_TICKS, X_LABELS, C_Y_TICKS,
      ["0.51270", "0.51275", "0.51280", "0.51285", "0.51290", "0.51295", "0.51300", "0.51305", "0.51310"],
      13, 13, 8, 2)

note(ax, 17.874, 0.513062, "$^{143}$Nd/$^{144}$Nd", TITLE_SIZE)
note(ax, 18.566, 0.513049, "Mauna Kea", 17)
lead(ax, 18.526, 0.513034, 18.502, 0.513010)
note(ax, 18.263, 0.512853, "Mauna Loa", 17)
lead(ax, 18.190, 0.512871, 18.162, 0.512903)
note(ax, 17.819, 0.512872, "hi-Si", 11)
lead(ax, 17.801, 0.512882, 17.814, 0.512902, 0.8)
lead(ax, 17.823, 0.512882, 17.836, 0.512902, 0.8)
note(ax, 17.762, 0.512812, "305-04", 12.5)
lead(ax, 17.783, 0.512819, 17.795, 0.512836, 1.0)
note(ax, 18.063, 0.512807, "hi-Si", 12.5, ha="left")
note(ax, 18.080, 0.512789, "306-09", 12.5)
note(ax, 18.080, 0.512771, "306-11", 12.5)
lead(ax, 18.065, 0.512815, 18.036, 0.512841, 1.0)
note(ax, 17.746, 0.512728, "(c)", 15)
fig.text(0.2795, 0.0138, "$^{206}$Pb/$^{204}$Pb", fontsize=TITLE_SIZE, family=ANNOT, ha="center",
         va="center", color=INK)

# =============================================================== panel (d)
ax = ax_d
field(ax, D_KF_X, D_KF_Y, "white", INK, 0.9)
field(ax, D_MF_X, D_MF_Y, MAK_FILL, MAK_EDGE, 1.2)
field(ax, D_ML_X, D_ML_Y, ML_FILL, ML_EDGE, 3.0)
field(ax, D_MK_X, D_MK_Y, MK_FILL, MK_EDGE, 3.4)
pts(ax, D_MAKAPUU_X, D_MAKAPUU_Y, "D", 45, "none", MAK_BLUE, 1.0)
pts(ax, D_LANAI_X, D_LANAI_Y, "o", 90, "none", NAVY, 1.0)
pts(ax, D_KAUAI_X, D_KAUAI_Y, "^", 105, "none", PLUM, 1.0)
pts(ax, D_KOLOA_X, D_KOLOA_Y, "D", 45, "none", PLUM, 1.0)
pts(ax, D_KOOLAU_X, D_KOOLAU_Y, "s", 85, "white", "black", 1.1, 3.5)
envelope(ax, D_ENV_X, D_ENV_Y)
envelope(ax, D_TUBE_X, D_TUBE_Y)
ring(ax, D_306)
study(ax, dict(gsq=(D_GSQ_X, D_GSQ_Y), osq=(D_OSQ_X, D_OSQ_Y), gdia=(D_GDIA_X, D_GDIA_Y),
               odia=(D_ODIA_X, D_ODIA_Y), gtri=(D_GTRI_X, D_GTRI_Y), rtri=(D_RTRI_X, D_RTRI_Y),
               rdia=(D_RDIA_X, D_RDIA_Y), lime=(D_LIME_X, D_LIME_Y)))
frame(ax, (17.7, 18.7), (0.28290, 0.28320), X_TICKS, X_LABELS, D_Y_TICKS,
      ["0.28290", "0.28295", "0.28300", "0.28305", "0.28310", "0.28315", "0.28320"], 12.5, 12.5, 11, 3)

note(ax, 17.868, 0.2831764, "$^{176}$Hf/$^{177}$Hf", TITLE_SIZE)
note(ax, 18.572, 0.2831808, "Mauna Kea", 17)
lead(ax, 18.556, 0.2831694, 18.530, 0.2831528)
note(ax, 18.470, 0.2830627, "Mauna Loa", 17)
lead(ax, 18.333, 0.2830604, 18.265, 0.2830702)
note(ax, 17.775, 0.2830785, "hi-Si", 11)
lead(ax, 17.771, 0.2830717, 17.790, 0.2830437, 0.8)
lead(ax, 17.808, 0.2830755, 17.857, 0.2830664, 0.8)
note(ax, 17.759, 0.2830104, "305-04", 12.5)
lead(ax, 17.771, 0.2830172, 17.790, 0.2830301, 1.0)
note(ax, 18.089, 0.2829596, "hi-Si", 12.5)
note(ax, 18.067, 0.2829384, "306-09", 12.5)
note(ax, 18.067, 0.2829263, "306-11", 12.5)
note(ax, 17.746, 0.2829218, "(d)", 15)
fig.text(0.7638, 0.0414, "$^{206}$Pb/$^{204}$Pb", fontsize=TITLE_SIZE, family=ANNOT, ha="center",
         va="center", color=INK)

fig.savefig("out.png", dpi=100, facecolor="white")
